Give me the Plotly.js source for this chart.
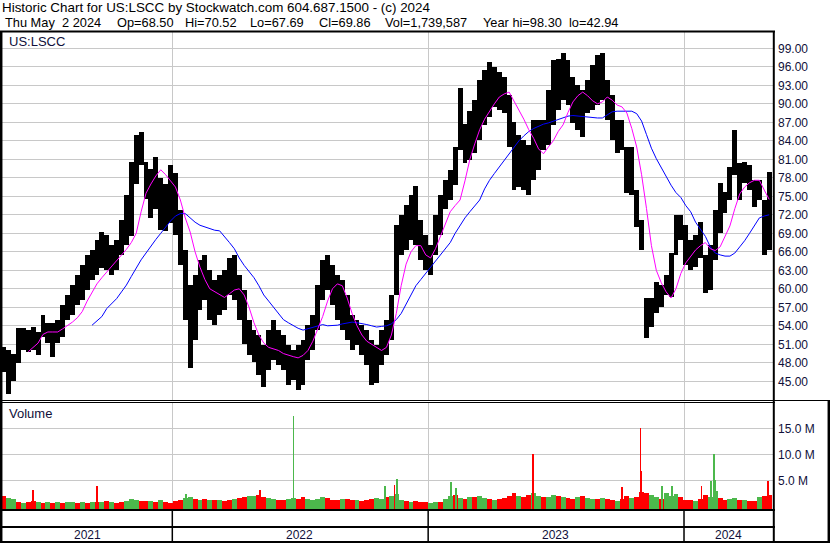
<!DOCTYPE html>
<html>
<head>
<meta charset="utf-8">
<script src="https://cdn.plot.ly/plotly-3.0.1.min.js"></script>
<style>
html,body{margin:0;padding:0;background:#fff;}
#chart{width:830px;height:543px;}
</style>
</head>
<body>
<div id="chart"></div>
<script>
// ---- Data (weekly; first week starts Mon 2021-05-03) ----
const firstWeek = '2021-05-03';
const highs = [
50.6,50.1,49.5,53.7,53.7,53.3,53.8,53.0,55.8,54.5,
54.5,55.0,57.4,59.0,60.6,62.2,63.9,65.5,66.3,67.9,
69.2,68.7,67.1,67.9,71.2,75.2,80.5,85.0,85.4,80.5,
79.5,81.4,78.0,77.0,80.0,78.8,72.8,66.3,60.6,62.2,
64.7,65.5,63.0,61.4,62.2,63.0,65.0,65.5,62.2,59.8,
55.0,53.3,52.5,50.9,53.3,55.0,53.3,52.5,50.9,50.0,
50.9,51.7,54.1,55.8,60.6,64.7,65.5,63.9,62.2,61.4,
59.0,55.8,55.0,54.1,53.3,51.7,50.9,53.3,55.0,59.0,
70.3,72.0,73.6,75.2,76.7,71.2,68.7,67.1,72.0,75.2,
77.6,79.3,83.0,92.5,86.8,88.9,90.6,93.9,95.5,96.8,
96.0,95.1,94.4,91.5,87.0,85.0,84.1,83.3,87.4,87.4,
87.4,92.2,97.1,97.2,98.2,97.1,94.4,93.0,92.2,93.9,
96.3,97.9,98.3,93.9,91.4,87.4,87.4,83.0,83.0,76.0,
71.2,58.5,58.5,61.1,60.6,62.2,65.8,72.0,72.0,70.3,
67.9,68.7,70.9,65.5,67.1,72.8,77.2,75.7,79.8,85.8,
80.4,80.6,80.0,77.6,77.6,74.4,79.0];
const lows = [
46.5,42.94,45.0,48.0,50.1,49.8,50.1,49.3,52.2,51.2,
49.0,51.2,52.2,55.0,55.8,57.4,58.2,59.8,61.4,62.2,
63.4,63.0,62.2,63.0,65.5,67.1,68.5,77.0,80.0,74.5,
71.5,73.0,69.5,69.3,70.6,68.7,63.9,55.0,47.2,51.7,
56.6,58.2,55.0,54.1,55.8,56.6,59.0,58.2,55.0,51.0,
49.3,48.1,46.0,44.0,46.8,48.5,47.7,46.8,44.4,45.2,
43.6,44.4,48.5,50.1,53.3,58.2,59.8,57.4,55.0,53.3,
51.7,50.1,50.9,49.3,47.7,44.4,44.7,47.7,49.3,51.7,
59.0,65.5,66.3,67.9,67.1,64.7,63.0,62.2,65.5,68.7,
73.0,74.4,76.8,82.5,80.4,80.9,82.0,84.1,86.6,87.9,
89.5,89.0,88.5,83.0,76.0,76.5,76.0,75.2,77.6,79.3,
82.5,83.3,86.6,89.0,90.6,89.8,86.9,85.8,84.6,88.5,
89.0,89.8,90.6,87.4,84.1,82.0,82.5,75.5,75.2,70.0,
66.3,52.0,53.8,56.0,57.0,59.0,58.7,65.5,67.9,63.9,
63.0,63.5,65.0,59.3,59.8,64.7,69.0,72.3,74.4,78.5,
74.4,77.2,76.0,73.3,74.4,65.5,66.3];
// short moving average (magenta), weekly readings
const maShort = [
null,null,null,null,null,49.8,50.5,51.2,52.6,53.0,
53.0,53.0,53.5,54.0,54.6,55.3,56.3,58.0,59.5,60.8,
61.8,62.7,63.6,64.5,65.5,66.4,67.5,69.0,72.5,75.5,
77.0,78.3,79.3,78.5,77.5,76.5,74.4,71.5,69.2,66.0,
63.5,61.5,60.0,59.5,59.0,58.6,59.2,59.8,60.0,59.0,
57.0,54.5,52.5,51.2,50.5,50.2,50.0,49.5,49.2,49.0,
48.8,49.2,50.0,51.5,53.5,55.5,58.0,60.0,60.8,60.5,
58.5,56.0,54.0,52.5,51.5,51.0,50.5,50.0,50.5,52.5,
56.0,60.5,64.0,66.0,67.0,67.0,65.5,65.0,66.5,68.5,
70.5,72.5,73.5,74.4,77.5,81.0,83.5,85.8,87.5,88.8,
90.0,91.1,91.6,91.9,90.5,89.0,87.5,85.8,84.4,82.7,
81.9,83.0,84.0,85.5,86.6,88.6,90.3,91.3,91.9,91.3,
90.5,90.0,90.3,91.1,90.6,89.8,89.5,88.5,86.0,83.0,
78.5,73.0,67.0,63.0,61.0,59.5,58.5,60.0,62.5,64.2,
65.2,66.3,67.0,67.5,66.5,66.2,66.8,68.5,70.2,73.0,
75.4,76.5,77.2,77.6,77.6,76.0,74.5];
// long moving average (blue), weekly readings
const maLong = [
null,null,null,null,null,null,null,null,null,null,
null,null,null,null,null,null,null,null,54.1,54.8,
55.5,56.8,57.6,58.4,59.5,60.6,62.0,63.4,64.7,65.8,
67.0,68.0,69.0,70.0,71.0,71.8,72.2,72.2,71.5,70.8,
70.3,70.0,69.8,69.5,69.4,68.5,67.5,66.5,65.0,63.8,
62.8,61.8,60.5,59.0,58.0,57.0,56.0,55.0,54.5,54.0,
53.6,53.3,53.5,53.8,54.0,54.2,54.0,54.0,54.1,54.3,
54.5,54.6,54.5,54.4,54.2,54.0,53.8,53.9,54.0,54.3,
55.0,56.0,57.5,59.0,60.5,61.5,62.5,63.5,64.5,65.5,
66.5,67.5,69.0,70.3,71.5,72.5,73.5,74.4,76.2,77.6,
78.7,79.8,80.9,82.0,83.0,84.0,84.8,85.5,86.0,86.4,
86.7,86.9,87.2,87.5,87.7,88.0,88.1,88.0,87.9,87.8,
87.7,87.7,87.7,88.2,88.7,88.8,88.8,88.8,88.8,88.4,
87.2,85.0,82.8,81.1,79.6,78.2,76.8,75.6,74.8,73.5,
72.5,70.8,69.6,68.5,66.8,65.8,65.5,65.3,65.3,65.8,
66.8,67.8,69.0,70.2,71.5,71.8,72.0];
// typical daily volume per week (millions) and whether the week's bars are mostly up (green)
const volume = [
2.0,1.6,1.4,0.8,0.7,0.8,1.0,0.9,0.7,0.8,
0.6,0.9,0.7,0.8,0.9,0.6,0.8,0.7,0.8,0.9,
0.9,1.0,0.8,0.7,0.9,1.1,1.5,1.3,1.0,1.1,
1.0,0.9,1.2,0.8,0.7,1.1,1.2,1.6,1.8,1.4,
1.3,1.5,1.2,1.3,1.2,1.0,1.3,1.4,1.6,1.8,
1.9,2.0,2.2,1.8,1.6,1.4,1.3,1.2,1.5,1.6,
1.5,1.8,1.4,1.3,1.5,1.8,1.6,1.3,1.2,1.4,
1.5,1.3,1.2,1.0,1.3,1.5,1.6,1.4,1.8,2.0,
2.4,1.2,1.0,0.9,1.0,0.9,0.8,0.7,0.8,0.9,
1.5,2.0,2.2,1.6,1.5,1.8,1.7,2.0,1.6,1.5,
1.3,1.4,1.6,2.0,2.5,2.0,1.8,2.2,2.5,2.0,
1.7,1.8,2.2,2.0,1.8,1.6,1.5,1.8,2.0,1.6,
1.5,1.4,1.6,1.5,1.2,1.0,1.4,2.0,1.6,1.8,
2.8,2.5,2.2,1.8,1.5,2.5,2.0,2.4,1.8,1.3,
1.2,1.0,1.4,2.2,1.8,3.0,1.6,1.2,1.4,1.6,
1.3,1.2,1.1,1.0,1.8,2.0,2.2];
const volumeUp = [
0,1,1,0,1,0,0,1,0,1,
0,1,0,1,1,0,1,0,1,0,
1,0,1,0,0,1,1,1,0,0,
1,0,1,0,0,0,0,1,1,0,
1,0,1,0,1,0,0,1,0,0,
1,1,0,0,1,1,0,0,1,1,
0,0,1,1,1,1,0,0,0,1,
0,0,1,0,0,0,1,1,0,1,
1,1,0,1,0,0,0,1,1,0,
1,1,0,1,0,1,0,1,1,0,
1,0,0,0,0,1,0,0,1,1,
0,1,1,0,1,0,0,1,0,1,
1,0,1,0,0,1,0,0,1,0,
0,0,1,1,0,1,1,1,0,0,
0,1,0,0,1,1,0,0,1,1,
0,1,0,0,1,0,0];
// single-day volume spikes (millions)
const spikeDates = ['2021-06-16','2021-09-15','2022-01-21','2022-05-06','2022-06-23','2022-10-31','2022-11-14','2022-11-17','2023-02-02','2023-02-10','2023-05-30','2023-10-04','2023-10-31','2023-11-01','2023-12-01','2023-12-15','2024-01-26','2024-02-08','2024-02-13','2024-02-14','2024-04-30'];
const spikeVols = [3.1,4.0,2.4,3.1,17.3,3.9,4.1,5.2,4.6,3.5,10.0,3.8,15.0,6.8,4.0,4.0,4.0,4.9,10.0,5.0,4.8];
const spikeUp = [0,0,1,0,1,1,0,1,1,1,0,0,0,0,1,1,0,1,1,1,0];
const priceTicks = [45,48,51,54,57,60,63,66,69,72,75,78,81,84,87,90,93,96,99];
const volTicks = [5,10,15];
const volTickText = ['5.0 M','10.0 M','15.0 M'];
const yearStarts = ['2022-01-01','2023-01-01','2024-01-01'];
const yearLabels = ['2021','2022','2023','2024'];
const yearLabelPos = ['2021-09-02','2022-07-02','2023-07-02','2024-03-05'];
const headerLine1 = 'Historic Chart for US:LSCC by Stockwatch.com 604.687.1500 - (c) 2024';
const headerFields = ['Thu May', '2 2024', 'Op=68.50', 'Hi=70.52', 'Lo=67.69', 'Cl=69.86', 'Vol=1,739,587', 'Year hi=98.30', 'lo=42.94'];

// ---- Build traces ----
const DAY = 86400000;
const t0 = Date.parse(firstWeek + 'T00:00:00Z');
const weekX = highs.map((_, i) => new Date(t0 + (i * 7 + 2.5) * DAY).toISOString());
const RED = '#ff0000', GREEN = '#4cb84c';
const VBASE = -0.5;

const traces = [
  {type:'bar', x:weekX, base:lows, y:highs.map((h,i)=>h-lows[i]), width:7*DAY,
   marker:{color:'#000000', line:{width:0}}, xaxis:'x', yaxis:'y', hoverinfo:'skip'},
  {type:'scatter', mode:'lines', x:weekX, y:maLong, line:{color:'#0000ff', width:1},
   xaxis:'x', yaxis:'y', hoverinfo:'skip'},
  {type:'scatter', mode:'lines', x:weekX, y:maShort, line:{color:'#ff00ff', width:1},
   xaxis:'x', yaxis:'y', hoverinfo:'skip'},
  {type:'bar', x:weekX, base:VBASE, y:volume.map(v=>v-VBASE), width:7*DAY,
   marker:{color:volumeUp.map(u=>u?GREEN:RED), line:{width:0}}, xaxis:'x2', yaxis:'y2', hoverinfo:'skip'},
  {type:'bar', x:spikeDates, base:VBASE, y:spikeVols.map(v=>v-VBASE), width:2.6*DAY,
   marker:{color:spikeUp.map(u=>u?GREEN:RED), line:{width:0}}, xaxis:'x2', yaxis:'y2', hoverinfo:'skip'}
];

// ---- Layout ----
const W = 830, H = 543, ML = 2, MR = 56, MT = 32, MB = 33;
const PW = W - ML - MR, PH = H - MT - MB;
const px = x => (x - ML) / PW;      // pixel x -> paper x
const py = y => (H - MB - y) / PH;  // pixel y -> paper y
const xRange = ['2021-05-03 01:00', '2024-05-08 09:00'];
const FONT = 'Liberation Sans, Arial, sans-serif';
const tickFont = {family:FONT, size:12, color:'#10103a'};
const lbl = {family:FONT, size:13, color:'#10103a'};
const hdrFont = {family:FONT, size:13.4, color:'#000'};
const hdr2Font = {family:FONT, size:12.8, color:'#000'};
// left pixel position of each field of the second header line
const headerFieldX = [3, 60, 115, 183, 248, 317, 383, 481, 567];

const hline = (x0, x1, y, w) => ({type:'line', xref:'paper', yref:'paper', x0:px(x0), x1:px(x1), y0:py(y), y1:py(y), line:{color:'#000', width:w}});
const vline = (x, y0, y1, w) => ({type:'line', xref:'paper', yref:'paper', x0:px(x), x1:px(x), y0:py(y0), y1:py(y1), line:{color:'#000', width:w}});

const shapes = [
  hline(0, 775, 31.5, 2),
  hline(0, 830, 400.5, 1),
  hline(0, 775, 402.5, 1),
  hline(0, 775, 510, 2),
  hline(0, 775, 527, 2),
  hline(0, 830, 542, 2),
  vline(1.2, 31, 543, 2.5),
  vline(773.8, 31, 543, 2),
  vline(828.8, 400, 543, 2.5)
];
yearStarts.forEach(d => shapes.push({type:'line', xref:'x', yref:'paper', x0:d, x1:d, y0:py(510), y1:py(542), line:{color:'#000', width:1.5}}));

const annotations = [
  {text:'US:LSCC', xref:'paper', yref:'paper', x:px(7), y:py(41), xanchor:'left', yanchor:'middle', showarrow:false, font:lbl},
  {text:'Volume', xref:'paper', yref:'paper', x:px(7), y:py(413), xanchor:'left', yanchor:'middle', showarrow:false, font:lbl}
];
headerFields.forEach((t,i) => annotations.push({text:t, xref:'paper', yref:'paper', x:px(headerFieldX[i]), y:py(23), xanchor:'left', yanchor:'middle', showarrow:false, font:hdr2Font}));
yearLabels.forEach((t,i) => annotations.push({text:t, xref:'x', yref:'paper', x:yearLabelPos[i], y:py(534.5), xanchor:'center', yanchor:'middle', showarrow:false, font:tickFont}));

const xCommon = {type:'date', range:xRange, domain:[0,1], tickvals:yearStarts, showticklabels:false, ticks:'',
  showgrid:true, gridcolor:'#c8c8c8', gridwidth:1, zeroline:false, showline:false, fixedrange:true, automargin:false};
const layout = {
  width:W, height:H, margin:{l:ML, r:MR, t:MT, b:MB, pad:0},
  paper_bgcolor:'#ffffff', plot_bgcolor:'#ffffff',
  showlegend:false, hovermode:false, barmode:'overlay', bargap:0,
  title:{text:headerLine1, x:2/W, xref:'container', xanchor:'left', y:1-7.5/H, yref:'container', yanchor:'middle', font:hdrFont},
  xaxis:Object.assign({anchor:'y'}, xCommon),
  xaxis2:Object.assign({anchor:'y2'}, xCommon),
  yaxis:{domain:[py(400.5), 1], range:[41.887, 101.643], side:'right', anchor:'x',
    tickvals:priceTicks, tickformat:'.2f', ticks:'', tickfont:tickFont, ticklabelstandoff:3,
    showgrid:true, gridcolor:'#c8c8c8', gridwidth:1, zeroline:false, showline:false, fixedrange:true, automargin:false},
  yaxis2:{domain:[0, py(402.5)], range:[-0.71, 19.96], side:'right', anchor:'x2',
    tickvals:volTicks, ticktext:volTickText, ticks:'', tickfont:tickFont, ticklabelstandoff:3,
    showgrid:true, gridcolor:'#c8c8c8', gridwidth:1, zeroline:false, showline:false, fixedrange:true, automargin:false},
  shapes:shapes, annotations:annotations
};

Plotly.newPlot('chart', traces, layout, {staticPlot:true, displayModeBar:false, responsive:false});
</script>
</body>
</html>
